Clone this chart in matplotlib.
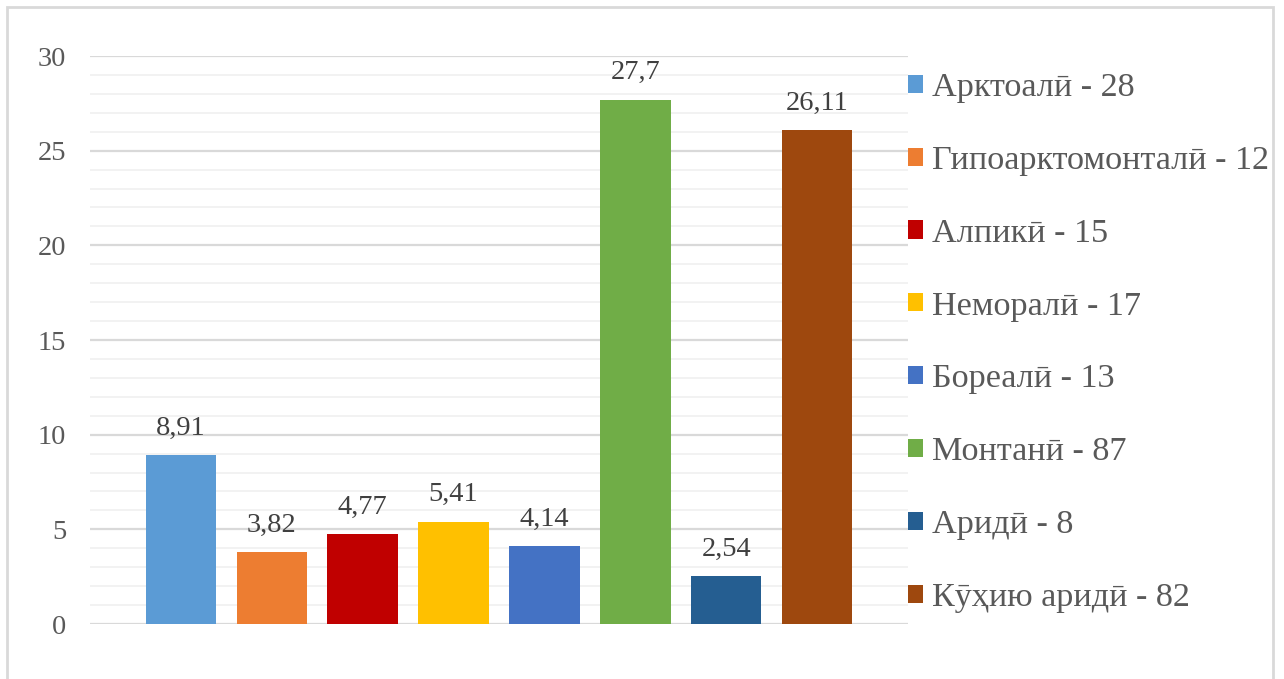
import matplotlib
matplotlib.use('Agg')
import matplotlib.pyplot as plt
from matplotlib.patches import Rectangle

names = ['Арктоалӣ - 28', 'Гипоарктомонталӣ - 12', 'Алпикӣ - 15', 'Немoралӣ - 17'.replace('o', 'о'),
         'Бореалӣ - 13', 'Монтанӣ - 87', 'Аридӣ - 8', 'Кӯҳию аридӣ - 82']
values = [8.91, 3.82, 4.77, 5.41, 4.14, 27.7, 2.54, 26.11]
value_labels = ['8,91', '3,82', '4,77', '5,41', '4,14', '27,7', '2,54', '26,11']
colors = ['#5B9BD5', '#ED7D31', '#C00000', '#FFC000', '#4472C4', '#70AD47', '#255E91', '#9E480E']
y_ticks = [0, 5, 10, 15, 20, 25, 30]

plt.rcParams['font.family'] = ['Liberation Serif', 'DejaVu Serif']
txt_color = '#595959'

fig = plt.figure(figsize=(12.84, 6.79), dpi=100)
ax = fig.add_axes([90 / 1284, 55 / 679, 818 / 1284, 568 / 679])

# outer chart border
fig.patches.append(Rectangle((7 / 1284, -0.05), 1266 / 1284, 1.05 - 7 / 679,
                             transform=fig.transFigure, fill=False,
                             edgecolor='#d9d9d9', linewidth=2))

for i, (v, c, n) in enumerate(zip(values, colors, names)):
    ax.bar(i, v, width=0.775, color=c, label=n, zorder=3)
    ax.text(i, v + 0.75, value_labels[i], ha='center', va='bottom',
            fontsize=20.5, color='#404040')

ax.set_xlim(-1, 8)
ax.set_ylim(0, 30)
ax.set_yticks(y_ticks)
ax.set_yticks(range(0, 31), minor=True)
ax.set_xticks([])
ax.tick_params(axis='y', which='both', length=0, pad=17, labelsize=20.5, labelcolor=txt_color)
ax.grid(axis='y', which='minor', color='#f0f0f0', linewidth=1.2, zorder=0)
ax.grid(axis='y', which='major', color='#d9d9d9', linewidth=1.6, zorder=1)
for s in ax.spines.values():
    s.set_visible(False)

leg = ax.legend(loc='upper left', bbox_to_anchor=(0.983, 0.995), frameon=False,
                fontsize=24.6, handlelength=0.44, handleheight=0.44,
                handletextpad=0.26, labelspacing=1.24, borderaxespad=0)
for t in leg.get_texts():
    t.set_color(txt_color)

fig.savefig('out.png', dpi=100)
